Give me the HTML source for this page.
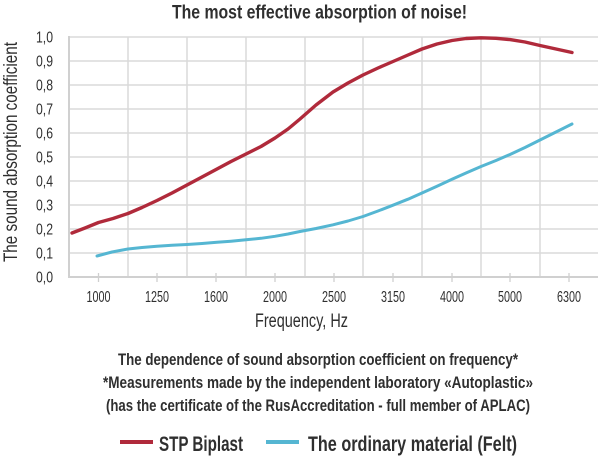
<!DOCTYPE html>
<html>
<head>
<meta charset="utf-8">
<style>
  html,body{margin:0;padding:0;background:#fff;}
  svg{display:block;}
  text{font-family:"Liberation Sans", sans-serif;fill:#2f2f2f;}
</style>
</head>
<body>
<svg width="600" height="457" viewBox="0 0 600 457" xmlns="http://www.w3.org/2000/svg">
  <!-- Title -->
  <text x="172" y="18.5" font-size="19.5" font-weight="bold" textLength="295" lengthAdjust="spacingAndGlyphs">The most effective absorption of noise!</text>

  <!-- horizontal grid -->
  <g stroke="#dadada" stroke-width="1.5">
    <line x1="69" y1="37" x2="598" y2="37"/>
    <line x1="69" y1="61" x2="598" y2="61"/>
    <line x1="69" y1="85" x2="598" y2="85"/>
    <line x1="69" y1="109" x2="598" y2="109"/>
    <line x1="69" y1="133" x2="598" y2="133"/>
    <line x1="69" y1="157" x2="598" y2="157"/>
    <line x1="69" y1="181" x2="598" y2="181"/>
    <line x1="69" y1="205" x2="598" y2="205"/>
    <line x1="69" y1="229" x2="598" y2="229"/>
    <line x1="69" y1="253" x2="598" y2="253"/>
  </g>
  <!-- vertical grid -->
  <g stroke="#dadada" stroke-width="1.5">
    <line x1="128" y1="37" x2="128" y2="277"/>
    <line x1="187" y1="37" x2="187" y2="277"/>
    <line x1="246" y1="37" x2="246" y2="277"/>
    <line x1="305" y1="37" x2="305" y2="277"/>
    <line x1="363" y1="37" x2="363" y2="277"/>
    <line x1="422" y1="37" x2="422" y2="277"/>
    <line x1="481" y1="37" x2="481" y2="277"/>
    <line x1="540" y1="37" x2="540" y2="277"/>
  </g>
  <!-- axes -->
  <g stroke="#d0d0d0" stroke-width="2">
    <line x1="69" y1="36" x2="69" y2="278"/>
    <line x1="68" y1="277" x2="598" y2="277"/>
  </g>
  <!-- ticks -->
  <g stroke="#cfcfcf" stroke-width="1.3">
    <line x1="98.5" y1="273" x2="98.5" y2="282"/>
    <line x1="157" y1="273" x2="157" y2="282"/>
    <line x1="216" y1="273" x2="216" y2="282"/>
    <line x1="275" y1="273" x2="275" y2="282"/>
    <line x1="334" y1="273" x2="334" y2="282"/>
    <line x1="393" y1="273" x2="393" y2="282"/>
    <line x1="452" y1="273" x2="452" y2="282"/>
    <line x1="510" y1="273" x2="510" y2="282"/>
    <line x1="569" y1="273" x2="569" y2="282"/>
  </g>

  <!-- Y labels -->
  <g font-size="15.5" text-anchor="end">
    <text x="53" y="42.5" textLength="17" lengthAdjust="spacingAndGlyphs">1,0</text>
    <text x="53" y="66.5" textLength="17" lengthAdjust="spacingAndGlyphs">0,9</text>
    <text x="53" y="90.5" textLength="17" lengthAdjust="spacingAndGlyphs">0,8</text>
    <text x="53" y="114.5" textLength="17" lengthAdjust="spacingAndGlyphs">0,7</text>
    <text x="53" y="138.5" textLength="17" lengthAdjust="spacingAndGlyphs">0,6</text>
    <text x="53" y="162.5" textLength="17" lengthAdjust="spacingAndGlyphs">0,5</text>
    <text x="53" y="186.5" textLength="17" lengthAdjust="spacingAndGlyphs">0,4</text>
    <text x="53" y="210.5" textLength="17" lengthAdjust="spacingAndGlyphs">0,3</text>
    <text x="53" y="234.5" textLength="17" lengthAdjust="spacingAndGlyphs">0,2</text>
    <text x="53" y="258.5" textLength="17" lengthAdjust="spacingAndGlyphs">0,1</text>
    <text x="53" y="282.5" textLength="17" lengthAdjust="spacingAndGlyphs">0,0</text>
  </g>

  <!-- X labels -->
  <g font-size="15.5" text-anchor="middle">
    <text x="98.5" y="302" textLength="24" lengthAdjust="spacingAndGlyphs">1000</text>
    <text x="157" y="302" textLength="24" lengthAdjust="spacingAndGlyphs">1250</text>
    <text x="216" y="302" textLength="24" lengthAdjust="spacingAndGlyphs">1600</text>
    <text x="275" y="302" textLength="24" lengthAdjust="spacingAndGlyphs">2000</text>
    <text x="334" y="302" textLength="24" lengthAdjust="spacingAndGlyphs">2500</text>
    <text x="393" y="302" textLength="24" lengthAdjust="spacingAndGlyphs">3150</text>
    <text x="452" y="302" textLength="24" lengthAdjust="spacingAndGlyphs">4000</text>
    <text x="510" y="302" textLength="24" lengthAdjust="spacingAndGlyphs">5000</text>
    <text x="569" y="302" textLength="24" lengthAdjust="spacingAndGlyphs">6300</text>
  </g>

  <!-- Y axis title -->
  <text transform="translate(17,262) rotate(-90)" x="0" y="0" font-size="19.5" textLength="220" lengthAdjust="spacingAndGlyphs">The sound absorption coefficient</text>

  <!-- X axis title -->
  <text x="255" y="327" font-size="19.5" textLength="93" lengthAdjust="spacingAndGlyphs">Frequency, Hz</text>

  <!-- Series -->
  <polyline fill="none" stroke="#b02a3b" stroke-width="3.4" stroke-linejoin="round" stroke-linecap="round"
    points="72,233 85,228 98.5,222.5 113,218.5 128,213.5 142,207.5 157,200.5 172,193 187,185 202,177 217,169 231,161.5 246,154 261,146.5 275,138 288,129 300,119 316,105 333,92 348,83 363,75 378,68 393,61.5 408,55 422,49 437,44 452,40.5 466,38.5 481,37.8 496,38.3 510,39.6 525,42 540,45.5 556,49 572,52.5"/>
  <polyline fill="none" stroke="#55b6d2" stroke-width="3" stroke-linejoin="round" stroke-linecap="round"
    points="97,256 112,252 128,249 142,247.5 157,246.3 172,245.3 187,244.5 202,243.5 217,242.3 231,241.2 246,239.8 261,238.3 275,236.3 288,234 300,231.5 316,228.5 333,224.8 348,221 363,216.5 378,211 393,205.2 408,199.2 422,193 437,186.2 452,179.3 466,173 481,166.5 496,160.5 510,154.5 525,147.5 540,140 556,132 572,124"/>

  <!-- Notes -->
  <g font-weight="bold" font-size="17">
    <text x="118" y="365" textLength="400" lengthAdjust="spacingAndGlyphs">The dependence of sound absorption coefficient on frequency*</text>
    <text x="103" y="388" textLength="430" lengthAdjust="spacingAndGlyphs">*Measurements made by the independent laboratory «Autoplastic»</text>
    <text x="106" y="411" textLength="424" lengthAdjust="spacingAndGlyphs">(has the certificate of the RusAccreditation - full member of APLAC)</text>
  </g>

  <!-- Legend -->
  <line x1="120" y1="442" x2="153" y2="442" stroke="#b02a3b" stroke-width="4"/>
  <text x="159" y="451" font-size="21.5" font-weight="bold" textLength="84" lengthAdjust="spacingAndGlyphs">STP Biplast</text>
  <line x1="266" y1="442" x2="299" y2="442" stroke="#55b6d2" stroke-width="4"/>
  <text x="308" y="451" font-size="21.5" font-weight="bold" textLength="209" lengthAdjust="spacingAndGlyphs">The ordinary material (Felt)</text>
</svg>
</body>
</html>
